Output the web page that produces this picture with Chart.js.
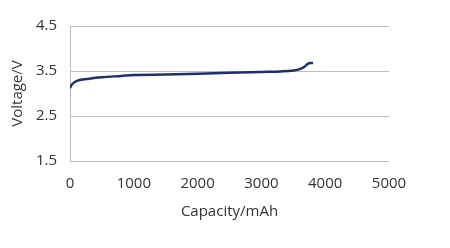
<!DOCTYPE html>
<html>
<head>
<meta charset="utf-8">
<script src="https://cdn.jsdelivr.net/npm/chart.js@4/dist/chart.umd.min.js"></script>
<style>
html,body{margin:0;padding:0;background:#fff;}
#wrap{width:450px;height:248px;position:relative;}
</style>
</head>
<body>
<div id="wrap"><canvas id="c" width="450" height="248"></canvas></div>
<script>
const capacity = [0, 30, 80, 150, 300, 500, 800, 1000, 1500, 2000, 2500, 3000, 3300, 3500, 3600, 3680, 3730, 3760, 3810];
const voltage  = [3.12, 3.2, 3.26, 3.30, 3.33, 3.36, 3.39, 3.41, 3.42, 3.44, 3.46, 3.48, 3.49, 3.51, 3.54, 3.60, 3.66, 3.68, 3.68];
const xTicks = [0, 1000, 2000, 3000, 4000, 5000];
const yTicks = [1.5, 2.5, 3.5, 4.5];
const xTitle = 'Capacity/mAh';
const yTitle = 'Voltage/V';

const font = {family: "'Open Sans', sans-serif", size: 15};
const textColor = '#333333';
const gridColor = '#BDBDBD';

new Chart(document.getElementById('c'), {
  type: 'scatter',
  data: {
    datasets: [{
      data: capacity.map((x, i) => ({x: x, y: voltage[i]})),
      showLine: true,
      borderColor: '#1F2F6B',
      borderWidth: 2.5,
      pointRadius: 0,
      tension: 0.3,
      cubicInterpolationMode: 'monotone'
    }]
  },
  options: {
    responsive: false,
    animation: false,
    devicePixelRatio: 1,
    layout: {padding: {left: 0, right: 61, top: 26, bottom: 27}},
    plugins: {legend: {display: false}, tooltip: {enabled: false}},
    scales: {
      x: {
        type: 'linear',
        min: 0, max: 5000,
        afterBuildTicks: s => { s.ticks = xTicks.map(v => ({value: v})); },
        ticks: {color: textColor, font: font, padding: 14, maxRotation: 0, callback: v => String(v)},
        grid: {display: false, drawTicks: false},
        border: {display: false},
        title: {display: true, text: xTitle, color: textColor, font: font, padding: {top: 2, bottom: 0}},
        afterFit: s => { s.height = 60; }
      },
      y: {
        min: 1.5, max: 4.5,
        afterBuildTicks: s => { s.ticks = yTicks.map(v => ({value: v})); },
        ticks: {color: textColor, font: font, padding: 13, callback: v => v.toFixed(1)},
        grid: {color: gridColor, lineWidth: 1, drawTicks: false},
        border: {display: true, color: gridColor, width: 1},
        title: {display: true, text: yTitle, color: textColor, font: font, padding: {top: 9, bottom: 0}},
        afterFit: s => { s.width = 70; }
      }
    }
  }
});
</script>
</body>
</html>
